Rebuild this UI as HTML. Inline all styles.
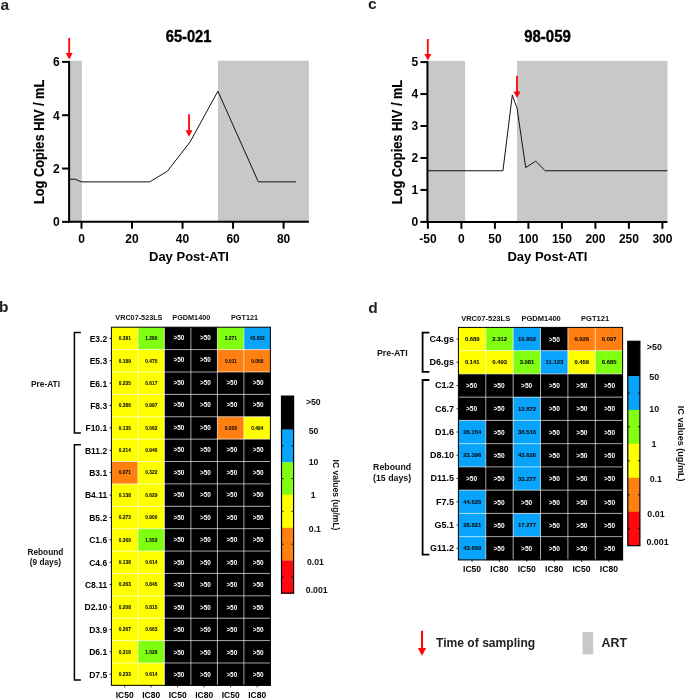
<!DOCTYPE html>
<html><head><meta charset="utf-8"><title>Figure</title>
<style>html,body{margin:0;padding:0;background:#fff;}body{width:685px;height:698px;overflow:hidden;font-family:"Liberation Sans",sans-serif;}svg{display:block;will-change:transform;}</style></head>
<body>
<svg width="685" height="698" viewBox="0 0 685 698" font-family="Liberation Sans, sans-serif" font-weight="bold">
<rect width="685" height="698" fill="#fff"/>
<rect x="69.12" y="60.69" width="12.76" height="161.16" fill="#c8c8c8"/>
<rect x="217.90" y="60.69" width="90.94" height="161.16" fill="#c8c8c8"/>
<polyline points="68.87,179.19 75.19,179.19 81.50,181.86 149.70,181.86 167.38,171.20 190.12,141.87 217.90,91.22 258.32,181.86 296.21,181.86" fill="none" stroke="#111" stroke-width="1.0" stroke-linejoin="miter"/>
<line x1="69.10" y1="60.89" x2="69.10" y2="222.85" stroke="#000" stroke-width="2.0"/>
<line x1="68.10" y1="221.85" x2="308.84" y2="221.85" stroke="#000" stroke-width="2.0"/>
<line x1="62.10" y1="221.85" x2="69.10" y2="221.85" stroke="#000" stroke-width="2.0"/>
<text x="59.80" y="226.15" font-size="12" text-anchor="end" fill="#000" >0</text>
<line x1="62.10" y1="168.53" x2="69.10" y2="168.53" stroke="#000" stroke-width="2.0"/>
<text x="59.80" y="172.83" font-size="12" text-anchor="end" fill="#000" >2</text>
<line x1="62.10" y1="115.21" x2="69.10" y2="115.21" stroke="#000" stroke-width="2.0"/>
<text x="59.80" y="119.51" font-size="12" text-anchor="end" fill="#000" >4</text>
<line x1="62.10" y1="61.89" x2="69.10" y2="61.89" stroke="#000" stroke-width="2.0"/>
<text x="59.80" y="66.19" font-size="12" text-anchor="end" fill="#000" >6</text>
<line x1="81.50" y1="221.85" x2="81.50" y2="228.75" stroke="#000" stroke-width="2.0"/>
<text x="81.50" y="242.85" font-size="12" text-anchor="middle" fill="#000" >0</text>
<line x1="132.02" y1="221.85" x2="132.02" y2="228.75" stroke="#000" stroke-width="2.0"/>
<text x="132.02" y="242.85" font-size="12" text-anchor="middle" fill="#000" >20</text>
<line x1="182.54" y1="221.85" x2="182.54" y2="228.75" stroke="#000" stroke-width="2.0"/>
<text x="182.54" y="242.85" font-size="12" text-anchor="middle" fill="#000" >40</text>
<line x1="233.06" y1="221.85" x2="233.06" y2="228.75" stroke="#000" stroke-width="2.0"/>
<text x="233.06" y="242.85" font-size="12" text-anchor="middle" fill="#000" >60</text>
<line x1="283.58" y1="221.85" x2="283.58" y2="228.75" stroke="#000" stroke-width="2.0"/>
<text x="283.58" y="242.85" font-size="12" text-anchor="middle" fill="#000" >80</text>
<text x="188.97" y="260.65" font-size="13.0" text-anchor="middle" fill="#000" >Day Post-ATI</text>
<text transform="translate(188.57,41.90) scale(0.98,1.11)" font-size="15" text-anchor="middle" fill="#000" stroke="#000" stroke-width="0.35">65-021</text>
<text transform="translate(43.90,141.87) rotate(-90) scale(0.985,1.08)" font-size="13" text-anchor="middle" fill="#000" stroke="#000" stroke-width="0.15">Log Copies HIV / mL</text>
<line x1="69.2" y1="38" x2="69.2" y2="54.1" stroke="#ff0505" stroke-width="1.8"/>
<polygon points="65.7,53.1 72.7,53.1 69.2,59.6" fill="#ff0505"/>
<line x1="189" y1="114.3" x2="189" y2="131.2" stroke="#ff0505" stroke-width="1.8"/>
<polygon points="185.5,130.2 192.5,130.2 189,136.7" fill="#ff0505"/>
<rect x="427.90" y="60.90" width="37.19" height="161.00" fill="#c8c8c8"/>
<rect x="517.01" y="60.90" width="150.41" height="161.00" fill="#c8c8c8"/>
<polyline points="427.90,170.76 502.94,170.76 512.32,95.02 517.01,108.12 525.72,167.57 535.77,161.18 545.15,170.76 667.42,170.76" fill="none" stroke="#111" stroke-width="1.0" stroke-linejoin="miter"/>
<line x1="427.43" y1="61.10" x2="427.43" y2="222.90" stroke="#000" stroke-width="2.0"/>
<line x1="426.43" y1="221.90" x2="667.42" y2="221.90" stroke="#000" stroke-width="2.0"/>
<line x1="420.43" y1="221.90" x2="427.43" y2="221.90" stroke="#000" stroke-width="2.0"/>
<text x="418.13" y="226.20" font-size="12" text-anchor="end" fill="#000" >0</text>
<line x1="420.43" y1="189.94" x2="427.43" y2="189.94" stroke="#000" stroke-width="2.0"/>
<text x="418.13" y="194.24" font-size="12" text-anchor="end" fill="#000" >1</text>
<line x1="420.43" y1="157.98" x2="427.43" y2="157.98" stroke="#000" stroke-width="2.0"/>
<text x="418.13" y="162.28" font-size="12" text-anchor="end" fill="#000" >2</text>
<line x1="420.43" y1="126.02" x2="427.43" y2="126.02" stroke="#000" stroke-width="2.0"/>
<text x="418.13" y="130.32" font-size="12" text-anchor="end" fill="#000" >3</text>
<line x1="420.43" y1="94.06" x2="427.43" y2="94.06" stroke="#000" stroke-width="2.0"/>
<text x="418.13" y="98.36" font-size="12" text-anchor="end" fill="#000" >4</text>
<line x1="420.43" y1="62.10" x2="427.43" y2="62.10" stroke="#000" stroke-width="2.0"/>
<text x="418.13" y="66.40" font-size="12" text-anchor="end" fill="#000" >5</text>
<line x1="427.90" y1="221.90" x2="427.90" y2="228.80" stroke="#000" stroke-width="2.0"/>
<text x="427.90" y="242.90" font-size="12" text-anchor="middle" fill="#000" >-50</text>
<line x1="461.40" y1="221.90" x2="461.40" y2="228.80" stroke="#000" stroke-width="2.0"/>
<text x="461.40" y="242.90" font-size="12" text-anchor="middle" fill="#000" >0</text>
<line x1="494.90" y1="221.90" x2="494.90" y2="228.80" stroke="#000" stroke-width="2.0"/>
<text x="494.90" y="242.90" font-size="12" text-anchor="middle" fill="#000" >50</text>
<line x1="528.40" y1="221.90" x2="528.40" y2="228.80" stroke="#000" stroke-width="2.0"/>
<text x="528.40" y="242.90" font-size="12" text-anchor="middle" fill="#000" >100</text>
<line x1="561.90" y1="221.90" x2="561.90" y2="228.80" stroke="#000" stroke-width="2.0"/>
<text x="561.90" y="242.90" font-size="12" text-anchor="middle" fill="#000" >150</text>
<line x1="595.40" y1="221.90" x2="595.40" y2="228.80" stroke="#000" stroke-width="2.0"/>
<text x="595.40" y="242.90" font-size="12" text-anchor="middle" fill="#000" >200</text>
<line x1="628.90" y1="221.90" x2="628.90" y2="228.80" stroke="#000" stroke-width="2.0"/>
<text x="628.90" y="242.90" font-size="12" text-anchor="middle" fill="#000" >250</text>
<line x1="662.40" y1="221.90" x2="662.40" y2="228.80" stroke="#000" stroke-width="2.0"/>
<text x="662.40" y="242.90" font-size="12" text-anchor="middle" fill="#000" >300</text>
<text x="547.43" y="260.70" font-size="13.0" text-anchor="middle" fill="#000" >Day Post-ATI</text>
<text transform="translate(547.53,41.90) scale(1.0,1.11)" font-size="15" text-anchor="middle" fill="#000" stroke="#000" stroke-width="0.35">98-059</text>
<text transform="translate(402.00,142.00) rotate(-90) scale(0.985,1.08)" font-size="13" text-anchor="middle" fill="#000" stroke="#000" stroke-width="0.15">Log Copies HIV / mL</text>
<line x1="427.8" y1="39" x2="427.8" y2="55.1" stroke="#ff0505" stroke-width="1.8"/>
<polygon points="424.3,54.1 431.3,54.1 427.8,60.6" fill="#ff0505"/>
<line x1="517" y1="75.8" x2="517" y2="92.5" stroke="#ff0505" stroke-width="1.8"/>
<polygon points="513.5,91.5 520.5,91.5 517,98.0" fill="#ff0505"/>
<text x="0.50" y="10.30" font-size="15.5" text-anchor="start" fill="#222" >a</text>
<text x="367.90" y="8.80" font-size="15.5" text-anchor="start" fill="#222" >c</text>
<text x="-0.90" y="311.80" font-size="15.5" text-anchor="start" fill="#222" >b</text>
<text x="368.20" y="313.30" font-size="15.5" text-anchor="start" fill="#222" >d</text>
<rect x="111.40" y="327.20" width="26.80" height="22.69" fill="#ffff00"/>
<rect x="137.90" y="327.20" width="26.80" height="22.69" fill="#80ff10"/>
<rect x="164.40" y="327.20" width="26.80" height="22.69" fill="#000000"/>
<rect x="190.90" y="327.20" width="26.80" height="22.69" fill="#000000"/>
<rect x="217.40" y="327.20" width="26.80" height="22.69" fill="#80ff10"/>
<rect x="243.90" y="327.20" width="26.80" height="22.69" fill="#08a4fc"/>
<rect x="111.40" y="349.58" width="26.80" height="22.69" fill="#ffff00"/>
<rect x="137.90" y="349.58" width="26.80" height="22.69" fill="#ffff00"/>
<rect x="164.40" y="349.58" width="26.80" height="22.69" fill="#000000"/>
<rect x="190.90" y="349.58" width="26.80" height="22.69" fill="#000000"/>
<rect x="217.40" y="349.58" width="26.80" height="22.69" fill="#ff8010"/>
<rect x="243.90" y="349.58" width="26.80" height="22.69" fill="#ff8010"/>
<rect x="111.40" y="371.97" width="26.80" height="22.69" fill="#ffff00"/>
<rect x="137.90" y="371.97" width="26.80" height="22.69" fill="#ffff00"/>
<rect x="164.40" y="371.97" width="26.80" height="22.69" fill="#000000"/>
<rect x="190.90" y="371.97" width="26.80" height="22.69" fill="#000000"/>
<rect x="217.40" y="371.97" width="26.80" height="22.69" fill="#000000"/>
<rect x="243.90" y="371.97" width="26.80" height="22.69" fill="#000000"/>
<rect x="111.40" y="394.36" width="26.80" height="22.69" fill="#ffff00"/>
<rect x="137.90" y="394.36" width="26.80" height="22.69" fill="#ffff00"/>
<rect x="164.40" y="394.36" width="26.80" height="22.69" fill="#000000"/>
<rect x="190.90" y="394.36" width="26.80" height="22.69" fill="#000000"/>
<rect x="217.40" y="394.36" width="26.80" height="22.69" fill="#000000"/>
<rect x="243.90" y="394.36" width="26.80" height="22.69" fill="#000000"/>
<rect x="111.40" y="416.74" width="26.80" height="22.69" fill="#ffff00"/>
<rect x="137.90" y="416.74" width="26.80" height="22.69" fill="#ffff00"/>
<rect x="164.40" y="416.74" width="26.80" height="22.69" fill="#000000"/>
<rect x="190.90" y="416.74" width="26.80" height="22.69" fill="#000000"/>
<rect x="217.40" y="416.74" width="26.80" height="22.69" fill="#ff8010"/>
<rect x="243.90" y="416.74" width="26.80" height="22.69" fill="#ffff00"/>
<rect x="111.40" y="439.12" width="26.80" height="22.69" fill="#ffff00"/>
<rect x="137.90" y="439.12" width="26.80" height="22.69" fill="#ffff00"/>
<rect x="164.40" y="439.12" width="26.80" height="22.69" fill="#000000"/>
<rect x="190.90" y="439.12" width="26.80" height="22.69" fill="#000000"/>
<rect x="217.40" y="439.12" width="26.80" height="22.69" fill="#000000"/>
<rect x="243.90" y="439.12" width="26.80" height="22.69" fill="#000000"/>
<rect x="111.40" y="461.51" width="26.80" height="22.69" fill="#ff8010"/>
<rect x="137.90" y="461.51" width="26.80" height="22.69" fill="#ffff00"/>
<rect x="164.40" y="461.51" width="26.80" height="22.69" fill="#000000"/>
<rect x="190.90" y="461.51" width="26.80" height="22.69" fill="#000000"/>
<rect x="217.40" y="461.51" width="26.80" height="22.69" fill="#000000"/>
<rect x="243.90" y="461.51" width="26.80" height="22.69" fill="#000000"/>
<rect x="111.40" y="483.89" width="26.80" height="22.69" fill="#ffff00"/>
<rect x="137.90" y="483.89" width="26.80" height="22.69" fill="#ffff00"/>
<rect x="164.40" y="483.89" width="26.80" height="22.69" fill="#000000"/>
<rect x="190.90" y="483.89" width="26.80" height="22.69" fill="#000000"/>
<rect x="217.40" y="483.89" width="26.80" height="22.69" fill="#000000"/>
<rect x="243.90" y="483.89" width="26.80" height="22.69" fill="#000000"/>
<rect x="111.40" y="506.28" width="26.80" height="22.69" fill="#ffff00"/>
<rect x="137.90" y="506.28" width="26.80" height="22.69" fill="#ffff00"/>
<rect x="164.40" y="506.28" width="26.80" height="22.69" fill="#000000"/>
<rect x="190.90" y="506.28" width="26.80" height="22.69" fill="#000000"/>
<rect x="217.40" y="506.28" width="26.80" height="22.69" fill="#000000"/>
<rect x="243.90" y="506.28" width="26.80" height="22.69" fill="#000000"/>
<rect x="111.40" y="528.66" width="26.80" height="22.69" fill="#ffff00"/>
<rect x="137.90" y="528.66" width="26.80" height="22.69" fill="#80ff10"/>
<rect x="164.40" y="528.66" width="26.80" height="22.69" fill="#000000"/>
<rect x="190.90" y="528.66" width="26.80" height="22.69" fill="#000000"/>
<rect x="217.40" y="528.66" width="26.80" height="22.69" fill="#000000"/>
<rect x="243.90" y="528.66" width="26.80" height="22.69" fill="#000000"/>
<rect x="111.40" y="551.05" width="26.80" height="22.69" fill="#ffff00"/>
<rect x="137.90" y="551.05" width="26.80" height="22.69" fill="#ffff00"/>
<rect x="164.40" y="551.05" width="26.80" height="22.69" fill="#000000"/>
<rect x="190.90" y="551.05" width="26.80" height="22.69" fill="#000000"/>
<rect x="217.40" y="551.05" width="26.80" height="22.69" fill="#000000"/>
<rect x="243.90" y="551.05" width="26.80" height="22.69" fill="#000000"/>
<rect x="111.40" y="573.43" width="26.80" height="22.69" fill="#ffff00"/>
<rect x="137.90" y="573.43" width="26.80" height="22.69" fill="#ffff00"/>
<rect x="164.40" y="573.43" width="26.80" height="22.69" fill="#000000"/>
<rect x="190.90" y="573.43" width="26.80" height="22.69" fill="#000000"/>
<rect x="217.40" y="573.43" width="26.80" height="22.69" fill="#000000"/>
<rect x="243.90" y="573.43" width="26.80" height="22.69" fill="#000000"/>
<rect x="111.40" y="595.82" width="26.80" height="22.69" fill="#ffff00"/>
<rect x="137.90" y="595.82" width="26.80" height="22.69" fill="#ffff00"/>
<rect x="164.40" y="595.82" width="26.80" height="22.69" fill="#000000"/>
<rect x="190.90" y="595.82" width="26.80" height="22.69" fill="#000000"/>
<rect x="217.40" y="595.82" width="26.80" height="22.69" fill="#000000"/>
<rect x="243.90" y="595.82" width="26.80" height="22.69" fill="#000000"/>
<rect x="111.40" y="618.20" width="26.80" height="22.69" fill="#ffff00"/>
<rect x="137.90" y="618.20" width="26.80" height="22.69" fill="#ffff00"/>
<rect x="164.40" y="618.20" width="26.80" height="22.69" fill="#000000"/>
<rect x="190.90" y="618.20" width="26.80" height="22.69" fill="#000000"/>
<rect x="217.40" y="618.20" width="26.80" height="22.69" fill="#000000"/>
<rect x="243.90" y="618.20" width="26.80" height="22.69" fill="#000000"/>
<rect x="111.40" y="640.59" width="26.80" height="22.69" fill="#ffff00"/>
<rect x="137.90" y="640.59" width="26.80" height="22.69" fill="#80ff10"/>
<rect x="164.40" y="640.59" width="26.80" height="22.69" fill="#000000"/>
<rect x="190.90" y="640.59" width="26.80" height="22.69" fill="#000000"/>
<rect x="217.40" y="640.59" width="26.80" height="22.69" fill="#000000"/>
<rect x="243.90" y="640.59" width="26.80" height="22.69" fill="#000000"/>
<rect x="111.40" y="662.98" width="26.80" height="22.69" fill="#ffff00"/>
<rect x="137.90" y="662.98" width="26.80" height="22.69" fill="#ffff00"/>
<rect x="164.40" y="662.98" width="26.80" height="22.69" fill="#000000"/>
<rect x="190.90" y="662.98" width="26.80" height="22.69" fill="#000000"/>
<rect x="217.40" y="662.98" width="26.80" height="22.69" fill="#000000"/>
<rect x="243.90" y="662.98" width="26.80" height="22.69" fill="#000000"/>
<line x1="111.40" y1="349.58" x2="270.40" y2="349.58" stroke="#fff" stroke-opacity="0.8" stroke-width="0.8"/>
<line x1="111.40" y1="371.97" x2="270.40" y2="371.97" stroke="#fff" stroke-opacity="0.8" stroke-width="0.8"/>
<line x1="111.40" y1="394.36" x2="270.40" y2="394.36" stroke="#fff" stroke-opacity="0.8" stroke-width="0.8"/>
<line x1="111.40" y1="416.74" x2="270.40" y2="416.74" stroke="#fff" stroke-opacity="0.8" stroke-width="0.8"/>
<line x1="111.40" y1="439.12" x2="270.40" y2="439.12" stroke="#fff" stroke-opacity="0.8" stroke-width="0.8"/>
<line x1="111.40" y1="461.51" x2="270.40" y2="461.51" stroke="#fff" stroke-opacity="0.8" stroke-width="0.8"/>
<line x1="111.40" y1="483.89" x2="270.40" y2="483.89" stroke="#fff" stroke-opacity="0.8" stroke-width="0.8"/>
<line x1="111.40" y1="506.28" x2="270.40" y2="506.28" stroke="#fff" stroke-opacity="0.8" stroke-width="0.8"/>
<line x1="111.40" y1="528.66" x2="270.40" y2="528.66" stroke="#fff" stroke-opacity="0.8" stroke-width="0.8"/>
<line x1="111.40" y1="551.05" x2="270.40" y2="551.05" stroke="#fff" stroke-opacity="0.8" stroke-width="0.8"/>
<line x1="111.40" y1="573.43" x2="270.40" y2="573.43" stroke="#fff" stroke-opacity="0.8" stroke-width="0.8"/>
<line x1="111.40" y1="595.82" x2="270.40" y2="595.82" stroke="#fff" stroke-opacity="0.8" stroke-width="0.8"/>
<line x1="111.40" y1="618.20" x2="270.40" y2="618.20" stroke="#fff" stroke-opacity="0.8" stroke-width="0.8"/>
<line x1="111.40" y1="640.59" x2="270.40" y2="640.59" stroke="#fff" stroke-opacity="0.8" stroke-width="0.8"/>
<line x1="111.40" y1="662.98" x2="270.40" y2="662.98" stroke="#fff" stroke-opacity="0.8" stroke-width="0.8"/>
<line x1="137.90" y1="327.20" x2="137.90" y2="685.36" stroke="#fff" stroke-opacity="0.8" stroke-width="0.8"/>
<line x1="164.40" y1="327.20" x2="164.40" y2="685.36" stroke="#fff" stroke-opacity="0.8" stroke-width="0.8"/>
<line x1="190.90" y1="327.20" x2="190.90" y2="685.36" stroke="#fff" stroke-opacity="0.8" stroke-width="0.8"/>
<line x1="217.40" y1="327.20" x2="217.40" y2="685.36" stroke="#fff" stroke-opacity="0.8" stroke-width="0.8"/>
<line x1="243.90" y1="327.20" x2="243.90" y2="685.36" stroke="#fff" stroke-opacity="0.8" stroke-width="0.8"/>
<text x="124.85" y="340.12" font-size="4.8" text-anchor="middle" fill="#0a0a0a" stroke="#111" stroke-width="0.07">0.381</text>
<text x="151.35" y="340.12" font-size="4.8" text-anchor="middle" fill="#0a0a0a" stroke="#111" stroke-width="0.07">1.280</text>
<text x="179.00" y="339.79" font-size="6.4" text-anchor="middle" fill="#fff" >&gt;50</text>
<text x="205.40" y="339.79" font-size="6.4" text-anchor="middle" fill="#fff" >&gt;50</text>
<text x="230.85" y="340.12" font-size="4.8" text-anchor="middle" fill="#0a0a0a" stroke="#111" stroke-width="0.07">3.371</text>
<text x="257.35" y="340.12" font-size="4.8" text-anchor="middle" fill="#0a0a0a" stroke="#111" stroke-width="0.07">45.932</text>
<line x1="109.60" y1="338.39" x2="111.40" y2="338.39" stroke="#000" stroke-width="0.9"/>
<text x="107.20" y="341.75" font-size="8.5" text-anchor="end" fill="#000" >E3.2</text>
<text x="124.85" y="362.51" font-size="4.8" text-anchor="middle" fill="#0a0a0a" stroke="#111" stroke-width="0.07">0.189</text>
<text x="151.35" y="362.51" font-size="4.8" text-anchor="middle" fill="#0a0a0a" stroke="#111" stroke-width="0.07">0.475</text>
<text x="179.00" y="362.28" font-size="6.4" text-anchor="middle" fill="#fff" >&gt;50</text>
<text x="205.40" y="362.28" font-size="6.4" text-anchor="middle" fill="#fff" >&gt;50</text>
<text x="230.85" y="362.51" font-size="4.8" text-anchor="middle" fill="#0a0a0a" stroke="#111" stroke-width="0.07">0.011</text>
<text x="257.35" y="362.51" font-size="4.8" text-anchor="middle" fill="#0a0a0a" stroke="#111" stroke-width="0.07">0.050</text>
<line x1="109.60" y1="360.78" x2="111.40" y2="360.78" stroke="#000" stroke-width="0.9"/>
<text x="107.20" y="364.14" font-size="8.5" text-anchor="end" fill="#000" >E5.3</text>
<text x="124.85" y="384.89" font-size="4.8" text-anchor="middle" fill="#0a0a0a" stroke="#111" stroke-width="0.07">0.235</text>
<text x="151.35" y="384.89" font-size="4.8" text-anchor="middle" fill="#0a0a0a" stroke="#111" stroke-width="0.07">0.617</text>
<text x="179.00" y="384.77" font-size="6.4" text-anchor="middle" fill="#fff" >&gt;50</text>
<text x="205.40" y="384.77" font-size="6.4" text-anchor="middle" fill="#fff" >&gt;50</text>
<text x="231.80" y="384.77" font-size="6.4" text-anchor="middle" fill="#fff" >&gt;50</text>
<text x="258.20" y="384.77" font-size="6.4" text-anchor="middle" fill="#fff" >&gt;50</text>
<line x1="109.60" y1="383.16" x2="111.40" y2="383.16" stroke="#000" stroke-width="0.9"/>
<text x="107.20" y="386.52" font-size="8.5" text-anchor="end" fill="#000" >E6.1</text>
<text x="124.85" y="407.28" font-size="4.8" text-anchor="middle" fill="#0a0a0a" stroke="#111" stroke-width="0.07">0.386</text>
<text x="151.35" y="407.28" font-size="4.8" text-anchor="middle" fill="#0a0a0a" stroke="#111" stroke-width="0.07">0.997</text>
<text x="179.00" y="407.25" font-size="6.4" text-anchor="middle" fill="#fff" >&gt;50</text>
<text x="205.40" y="407.25" font-size="6.4" text-anchor="middle" fill="#fff" >&gt;50</text>
<text x="231.80" y="407.25" font-size="6.4" text-anchor="middle" fill="#fff" >&gt;50</text>
<text x="258.20" y="407.25" font-size="6.4" text-anchor="middle" fill="#fff" >&gt;50</text>
<line x1="109.60" y1="405.55" x2="111.40" y2="405.55" stroke="#000" stroke-width="0.9"/>
<text x="107.20" y="408.91" font-size="8.5" text-anchor="end" fill="#000" >F8.3</text>
<text x="124.85" y="429.66" font-size="4.8" text-anchor="middle" fill="#0a0a0a" stroke="#111" stroke-width="0.07">0.135</text>
<text x="151.35" y="429.66" font-size="4.8" text-anchor="middle" fill="#0a0a0a" stroke="#111" stroke-width="0.07">0.562</text>
<text x="179.00" y="429.74" font-size="6.4" text-anchor="middle" fill="#fff" >&gt;50</text>
<text x="205.40" y="429.74" font-size="6.4" text-anchor="middle" fill="#fff" >&gt;50</text>
<text x="230.85" y="429.66" font-size="4.8" text-anchor="middle" fill="#0a0a0a" stroke="#111" stroke-width="0.07">0.029</text>
<text x="257.35" y="429.66" font-size="4.8" text-anchor="middle" fill="#0a0a0a" stroke="#111" stroke-width="0.07">0.484</text>
<line x1="109.60" y1="427.93" x2="111.40" y2="427.93" stroke="#000" stroke-width="0.9"/>
<text x="107.20" y="431.29" font-size="8.5" text-anchor="end" fill="#000" >F10.1</text>
<text x="124.85" y="452.05" font-size="4.8" text-anchor="middle" fill="#0a0a0a" stroke="#111" stroke-width="0.07">0.214</text>
<text x="151.35" y="452.05" font-size="4.8" text-anchor="middle" fill="#0a0a0a" stroke="#111" stroke-width="0.07">0.946</text>
<text x="179.00" y="452.23" font-size="6.4" text-anchor="middle" fill="#fff" >&gt;50</text>
<text x="205.40" y="452.23" font-size="6.4" text-anchor="middle" fill="#fff" >&gt;50</text>
<text x="231.80" y="452.23" font-size="6.4" text-anchor="middle" fill="#fff" >&gt;50</text>
<text x="258.20" y="452.23" font-size="6.4" text-anchor="middle" fill="#fff" >&gt;50</text>
<line x1="109.60" y1="450.32" x2="111.40" y2="450.32" stroke="#000" stroke-width="0.9"/>
<text x="107.20" y="453.68" font-size="8.5" text-anchor="end" fill="#000" >B11.2</text>
<text x="124.85" y="474.43" font-size="4.8" text-anchor="middle" fill="#0a0a0a" stroke="#111" stroke-width="0.07">0.071</text>
<text x="151.35" y="474.43" font-size="4.8" text-anchor="middle" fill="#0a0a0a" stroke="#111" stroke-width="0.07">0.322</text>
<text x="179.00" y="474.71" font-size="6.4" text-anchor="middle" fill="#fff" >&gt;50</text>
<text x="205.40" y="474.71" font-size="6.4" text-anchor="middle" fill="#fff" >&gt;50</text>
<text x="231.80" y="474.71" font-size="6.4" text-anchor="middle" fill="#fff" >&gt;50</text>
<text x="258.20" y="474.71" font-size="6.4" text-anchor="middle" fill="#fff" >&gt;50</text>
<line x1="109.60" y1="472.70" x2="111.40" y2="472.70" stroke="#000" stroke-width="0.9"/>
<text x="107.20" y="476.06" font-size="8.5" text-anchor="end" fill="#000" >B3.1</text>
<text x="124.85" y="496.82" font-size="4.8" text-anchor="middle" fill="#0a0a0a" stroke="#111" stroke-width="0.07">0.138</text>
<text x="151.35" y="496.82" font-size="4.8" text-anchor="middle" fill="#0a0a0a" stroke="#111" stroke-width="0.07">0.629</text>
<text x="179.00" y="497.20" font-size="6.4" text-anchor="middle" fill="#fff" >&gt;50</text>
<text x="205.40" y="497.20" font-size="6.4" text-anchor="middle" fill="#fff" >&gt;50</text>
<text x="231.80" y="497.20" font-size="6.4" text-anchor="middle" fill="#fff" >&gt;50</text>
<text x="258.20" y="497.20" font-size="6.4" text-anchor="middle" fill="#fff" >&gt;50</text>
<line x1="109.60" y1="495.09" x2="111.40" y2="495.09" stroke="#000" stroke-width="0.9"/>
<text x="107.20" y="498.45" font-size="8.5" text-anchor="end" fill="#000" >B4.11</text>
<text x="124.85" y="519.20" font-size="4.8" text-anchor="middle" fill="#0a0a0a" stroke="#111" stroke-width="0.07">0.273</text>
<text x="151.35" y="519.20" font-size="4.8" text-anchor="middle" fill="#0a0a0a" stroke="#111" stroke-width="0.07">0.900</text>
<text x="179.00" y="519.69" font-size="6.4" text-anchor="middle" fill="#fff" >&gt;50</text>
<text x="205.40" y="519.69" font-size="6.4" text-anchor="middle" fill="#fff" >&gt;50</text>
<text x="231.80" y="519.69" font-size="6.4" text-anchor="middle" fill="#fff" >&gt;50</text>
<text x="258.20" y="519.69" font-size="6.4" text-anchor="middle" fill="#fff" >&gt;50</text>
<line x1="109.60" y1="517.47" x2="111.40" y2="517.47" stroke="#000" stroke-width="0.9"/>
<text x="107.20" y="520.83" font-size="8.5" text-anchor="end" fill="#000" >B5.2</text>
<text x="124.85" y="541.59" font-size="4.8" text-anchor="middle" fill="#0a0a0a" stroke="#111" stroke-width="0.07">0.369</text>
<text x="151.35" y="541.59" font-size="4.8" text-anchor="middle" fill="#0a0a0a" stroke="#111" stroke-width="0.07">1.553</text>
<text x="179.00" y="542.17" font-size="6.4" text-anchor="middle" fill="#fff" >&gt;50</text>
<text x="205.40" y="542.17" font-size="6.4" text-anchor="middle" fill="#fff" >&gt;50</text>
<text x="231.80" y="542.17" font-size="6.4" text-anchor="middle" fill="#fff" >&gt;50</text>
<text x="258.20" y="542.17" font-size="6.4" text-anchor="middle" fill="#fff" >&gt;50</text>
<line x1="109.60" y1="539.86" x2="111.40" y2="539.86" stroke="#000" stroke-width="0.9"/>
<text x="107.20" y="543.22" font-size="8.5" text-anchor="end" fill="#000" >C1.6</text>
<text x="124.85" y="563.97" font-size="4.8" text-anchor="middle" fill="#0a0a0a" stroke="#111" stroke-width="0.07">0.138</text>
<text x="151.35" y="563.97" font-size="4.8" text-anchor="middle" fill="#0a0a0a" stroke="#111" stroke-width="0.07">0.614</text>
<text x="179.00" y="564.66" font-size="6.4" text-anchor="middle" fill="#fff" >&gt;50</text>
<text x="205.40" y="564.66" font-size="6.4" text-anchor="middle" fill="#fff" >&gt;50</text>
<text x="231.80" y="564.66" font-size="6.4" text-anchor="middle" fill="#fff" >&gt;50</text>
<text x="258.20" y="564.66" font-size="6.4" text-anchor="middle" fill="#fff" >&gt;50</text>
<line x1="109.60" y1="562.24" x2="111.40" y2="562.24" stroke="#000" stroke-width="0.9"/>
<text x="107.20" y="565.60" font-size="8.5" text-anchor="end" fill="#000" >C4.6</text>
<text x="124.85" y="586.36" font-size="4.8" text-anchor="middle" fill="#0a0a0a" stroke="#111" stroke-width="0.07">0.263</text>
<text x="151.35" y="586.36" font-size="4.8" text-anchor="middle" fill="#0a0a0a" stroke="#111" stroke-width="0.07">0.845</text>
<text x="179.00" y="587.15" font-size="6.4" text-anchor="middle" fill="#fff" >&gt;50</text>
<text x="205.40" y="587.15" font-size="6.4" text-anchor="middle" fill="#fff" >&gt;50</text>
<text x="231.80" y="587.15" font-size="6.4" text-anchor="middle" fill="#fff" >&gt;50</text>
<text x="258.20" y="587.15" font-size="6.4" text-anchor="middle" fill="#fff" >&gt;50</text>
<line x1="109.60" y1="584.63" x2="111.40" y2="584.63" stroke="#000" stroke-width="0.9"/>
<text x="107.20" y="587.99" font-size="8.5" text-anchor="end" fill="#000" >C8.11</text>
<text x="124.85" y="608.74" font-size="4.8" text-anchor="middle" fill="#0a0a0a" stroke="#111" stroke-width="0.07">0.208</text>
<text x="151.35" y="608.74" font-size="4.8" text-anchor="middle" fill="#0a0a0a" stroke="#111" stroke-width="0.07">0.815</text>
<text x="179.00" y="609.64" font-size="6.4" text-anchor="middle" fill="#fff" >&gt;50</text>
<text x="205.40" y="609.64" font-size="6.4" text-anchor="middle" fill="#fff" >&gt;50</text>
<text x="231.80" y="609.64" font-size="6.4" text-anchor="middle" fill="#fff" >&gt;50</text>
<text x="258.20" y="609.64" font-size="6.4" text-anchor="middle" fill="#fff" >&gt;50</text>
<line x1="109.60" y1="607.01" x2="111.40" y2="607.01" stroke="#000" stroke-width="0.9"/>
<text x="107.20" y="610.37" font-size="8.5" text-anchor="end" fill="#000" >D2.10</text>
<text x="124.85" y="631.13" font-size="4.8" text-anchor="middle" fill="#0a0a0a" stroke="#111" stroke-width="0.07">0.267</text>
<text x="151.35" y="631.13" font-size="4.8" text-anchor="middle" fill="#0a0a0a" stroke="#111" stroke-width="0.07">0.663</text>
<text x="179.00" y="632.12" font-size="6.4" text-anchor="middle" fill="#fff" >&gt;50</text>
<text x="205.40" y="632.12" font-size="6.4" text-anchor="middle" fill="#fff" >&gt;50</text>
<text x="231.80" y="632.12" font-size="6.4" text-anchor="middle" fill="#fff" >&gt;50</text>
<text x="258.20" y="632.12" font-size="6.4" text-anchor="middle" fill="#fff" >&gt;50</text>
<line x1="109.60" y1="629.40" x2="111.40" y2="629.40" stroke="#000" stroke-width="0.9"/>
<text x="107.20" y="632.76" font-size="8.5" text-anchor="end" fill="#000" >D3.9</text>
<text x="124.85" y="653.51" font-size="4.8" text-anchor="middle" fill="#0a0a0a" stroke="#111" stroke-width="0.07">0.318</text>
<text x="151.35" y="653.51" font-size="4.8" text-anchor="middle" fill="#0a0a0a" stroke="#111" stroke-width="0.07">1.028</text>
<text x="179.00" y="654.61" font-size="6.4" text-anchor="middle" fill="#fff" >&gt;50</text>
<text x="205.40" y="654.61" font-size="6.4" text-anchor="middle" fill="#fff" >&gt;50</text>
<text x="231.80" y="654.61" font-size="6.4" text-anchor="middle" fill="#fff" >&gt;50</text>
<text x="258.20" y="654.61" font-size="6.4" text-anchor="middle" fill="#fff" >&gt;50</text>
<line x1="109.60" y1="651.78" x2="111.40" y2="651.78" stroke="#000" stroke-width="0.9"/>
<text x="107.20" y="655.14" font-size="8.5" text-anchor="end" fill="#000" >D6.1</text>
<text x="124.85" y="675.90" font-size="4.8" text-anchor="middle" fill="#0a0a0a" stroke="#111" stroke-width="0.07">0.233</text>
<text x="151.35" y="675.90" font-size="4.8" text-anchor="middle" fill="#0a0a0a" stroke="#111" stroke-width="0.07">0.614</text>
<text x="179.00" y="677.10" font-size="6.4" text-anchor="middle" fill="#fff" >&gt;50</text>
<text x="205.40" y="677.10" font-size="6.4" text-anchor="middle" fill="#fff" >&gt;50</text>
<text x="231.80" y="677.10" font-size="6.4" text-anchor="middle" fill="#fff" >&gt;50</text>
<text x="258.20" y="677.10" font-size="6.4" text-anchor="middle" fill="#fff" >&gt;50</text>
<line x1="109.60" y1="674.17" x2="111.40" y2="674.17" stroke="#000" stroke-width="0.9"/>
<text x="107.20" y="677.53" font-size="8.5" text-anchor="end" fill="#000" >D7.5</text>
<rect x="111.40" y="327.20" width="159.00" height="358.16" fill="none" stroke="#000" stroke-width="1"/>
<line x1="124.65" y1="685.36" x2="124.65" y2="687.36" stroke="#000" stroke-width="0.8"/>
<text x="124.65" y="697.56" font-size="8.5" text-anchor="middle" fill="#000" >IC50</text>
<line x1="151.15" y1="685.36" x2="151.15" y2="687.36" stroke="#000" stroke-width="0.8"/>
<text x="151.15" y="697.56" font-size="8.5" text-anchor="middle" fill="#000" >IC80</text>
<line x1="177.65" y1="685.36" x2="177.65" y2="687.36" stroke="#000" stroke-width="0.8"/>
<text x="177.65" y="697.56" font-size="8.5" text-anchor="middle" fill="#000" >IC50</text>
<line x1="204.15" y1="685.36" x2="204.15" y2="687.36" stroke="#000" stroke-width="0.8"/>
<text x="204.15" y="697.56" font-size="8.5" text-anchor="middle" fill="#000" >IC80</text>
<line x1="230.65" y1="685.36" x2="230.65" y2="687.36" stroke="#000" stroke-width="0.8"/>
<text x="230.65" y="697.56" font-size="8.5" text-anchor="middle" fill="#000" >IC50</text>
<line x1="257.15" y1="685.36" x2="257.15" y2="687.36" stroke="#000" stroke-width="0.8"/>
<text x="257.15" y="697.56" font-size="8.5" text-anchor="middle" fill="#000" >IC80</text>
<text x="138.90" y="319.80" font-size="7.25" text-anchor="middle" fill="#111" >VRC07-523LS</text>
<text x="191.30" y="319.80" font-size="7.25" text-anchor="middle" fill="#111" >PGDM1400</text>
<text x="244.50" y="319.80" font-size="7.25" text-anchor="middle" fill="#111" >PGT121</text>
<polyline points="80.90,332.40 74.40,332.40 74.40,433.00 80.90,433.00" fill="none" stroke="#000" stroke-width="1.5"/>
<polyline points="80.90,444.70 74.40,444.70 74.40,680.00 80.90,680.00" fill="none" stroke="#000" stroke-width="1.5"/>
<text x="45.50" y="387.20" font-size="8.3" text-anchor="middle" fill="#111" >Pre-ATI</text>
<text x="45.40" y="555.00" font-size="8.3" text-anchor="middle" fill="#111" >Rebound</text>
<text x="45.40" y="565.00" font-size="8.3" text-anchor="middle" fill="#111" >(9 days)</text>
<rect x="281.50" y="396.10" width="12.10" height="33.70" fill="#000000"/>
<rect x="281.50" y="429.50" width="12.10" height="33.10" fill="#08a4fc"/>
<rect x="281.50" y="462.30" width="12.10" height="32.80" fill="#80ff10"/>
<rect x="281.50" y="494.80" width="12.10" height="33.30" fill="#ffff00"/>
<rect x="281.50" y="527.80" width="12.10" height="33.10" fill="#ff8010"/>
<rect x="281.50" y="560.60" width="12.10" height="32.90" fill="#ff0810"/>
<rect x="281.50" y="396.10" width="12.10" height="197.10" fill="none" stroke="#000" stroke-width="1.2"/>
<line x1="281.50" y1="445.90" x2="283.50" y2="445.90" stroke="#000" stroke-width="0.9"/>
<line x1="291.60" y1="445.90" x2="293.60" y2="445.90" stroke="#000" stroke-width="0.9"/>
<line x1="281.50" y1="478.55" x2="283.50" y2="478.55" stroke="#000" stroke-width="0.9"/>
<line x1="291.60" y1="478.55" x2="293.60" y2="478.55" stroke="#000" stroke-width="0.9"/>
<line x1="281.50" y1="511.30" x2="283.50" y2="511.30" stroke="#000" stroke-width="0.9"/>
<line x1="291.60" y1="511.30" x2="293.60" y2="511.30" stroke="#000" stroke-width="0.9"/>
<line x1="281.50" y1="544.20" x2="283.50" y2="544.20" stroke="#000" stroke-width="0.9"/>
<line x1="291.60" y1="544.20" x2="293.60" y2="544.20" stroke="#000" stroke-width="0.9"/>
<line x1="281.50" y1="576.90" x2="283.50" y2="576.90" stroke="#000" stroke-width="0.9"/>
<line x1="291.60" y1="576.90" x2="293.60" y2="576.90" stroke="#000" stroke-width="0.9"/>
<text x="313.30" y="404.83" font-size="8.7" text-anchor="middle" fill="#111" >&gt;50</text>
<text x="313.60" y="433.93" font-size="8.7" text-anchor="middle" fill="#111" >50</text>
<text x="313.60" y="464.63" font-size="8.7" text-anchor="middle" fill="#111" >10</text>
<text x="313.20" y="498.43" font-size="8.7" text-anchor="middle" fill="#111" >1</text>
<text x="314.90" y="532.23" font-size="8.7" text-anchor="middle" fill="#111" >0.1</text>
<text x="315.40" y="565.23" font-size="8.7" text-anchor="middle" fill="#111" >0.01</text>
<text x="316.70" y="592.63" font-size="8.7" text-anchor="middle" fill="#111" >0.001</text>
<text transform="translate(333.20,495.00) rotate(90)" font-size="8.5" text-anchor="middle" fill="#111">IC values (ug/mL)</text>
<rect x="458.40" y="327.40" width="27.67" height="23.55" fill="#ffff00"/>
<rect x="485.77" y="327.40" width="27.67" height="23.55" fill="#80ff10"/>
<rect x="513.14" y="327.40" width="27.67" height="23.55" fill="#08a4fc"/>
<rect x="540.51" y="327.40" width="27.67" height="23.55" fill="#000000"/>
<rect x="567.88" y="327.40" width="27.67" height="23.55" fill="#ff8010"/>
<rect x="595.25" y="327.40" width="27.67" height="23.55" fill="#ff8010"/>
<rect x="458.40" y="350.65" width="27.67" height="23.55" fill="#ffff00"/>
<rect x="485.77" y="350.65" width="27.67" height="23.55" fill="#ffff00"/>
<rect x="513.14" y="350.65" width="27.67" height="23.55" fill="#80ff10"/>
<rect x="540.51" y="350.65" width="27.67" height="23.55" fill="#08a4fc"/>
<rect x="567.88" y="350.65" width="27.67" height="23.55" fill="#ffff00"/>
<rect x="595.25" y="350.65" width="27.67" height="23.55" fill="#80ff10"/>
<rect x="458.40" y="373.90" width="27.67" height="23.55" fill="#000000"/>
<rect x="485.77" y="373.90" width="27.67" height="23.55" fill="#000000"/>
<rect x="513.14" y="373.90" width="27.67" height="23.55" fill="#000000"/>
<rect x="540.51" y="373.90" width="27.67" height="23.55" fill="#000000"/>
<rect x="567.88" y="373.90" width="27.67" height="23.55" fill="#000000"/>
<rect x="595.25" y="373.90" width="27.67" height="23.55" fill="#000000"/>
<rect x="458.40" y="397.15" width="27.67" height="23.55" fill="#000000"/>
<rect x="485.77" y="397.15" width="27.67" height="23.55" fill="#000000"/>
<rect x="513.14" y="397.15" width="27.67" height="23.55" fill="#08a4fc"/>
<rect x="540.51" y="397.15" width="27.67" height="23.55" fill="#000000"/>
<rect x="567.88" y="397.15" width="27.67" height="23.55" fill="#000000"/>
<rect x="595.25" y="397.15" width="27.67" height="23.55" fill="#000000"/>
<rect x="458.40" y="420.40" width="27.67" height="23.55" fill="#08a4fc"/>
<rect x="485.77" y="420.40" width="27.67" height="23.55" fill="#000000"/>
<rect x="513.14" y="420.40" width="27.67" height="23.55" fill="#08a4fc"/>
<rect x="540.51" y="420.40" width="27.67" height="23.55" fill="#000000"/>
<rect x="567.88" y="420.40" width="27.67" height="23.55" fill="#000000"/>
<rect x="595.25" y="420.40" width="27.67" height="23.55" fill="#000000"/>
<rect x="458.40" y="443.65" width="27.67" height="23.55" fill="#08a4fc"/>
<rect x="485.77" y="443.65" width="27.67" height="23.55" fill="#000000"/>
<rect x="513.14" y="443.65" width="27.67" height="23.55" fill="#08a4fc"/>
<rect x="540.51" y="443.65" width="27.67" height="23.55" fill="#000000"/>
<rect x="567.88" y="443.65" width="27.67" height="23.55" fill="#000000"/>
<rect x="595.25" y="443.65" width="27.67" height="23.55" fill="#000000"/>
<rect x="458.40" y="466.90" width="27.67" height="23.55" fill="#000000"/>
<rect x="485.77" y="466.90" width="27.67" height="23.55" fill="#000000"/>
<rect x="513.14" y="466.90" width="27.67" height="23.55" fill="#08a4fc"/>
<rect x="540.51" y="466.90" width="27.67" height="23.55" fill="#000000"/>
<rect x="567.88" y="466.90" width="27.67" height="23.55" fill="#000000"/>
<rect x="595.25" y="466.90" width="27.67" height="23.55" fill="#000000"/>
<rect x="458.40" y="490.15" width="27.67" height="23.55" fill="#08a4fc"/>
<rect x="485.77" y="490.15" width="27.67" height="23.55" fill="#000000"/>
<rect x="513.14" y="490.15" width="27.67" height="23.55" fill="#000000"/>
<rect x="540.51" y="490.15" width="27.67" height="23.55" fill="#000000"/>
<rect x="567.88" y="490.15" width="27.67" height="23.55" fill="#000000"/>
<rect x="595.25" y="490.15" width="27.67" height="23.55" fill="#000000"/>
<rect x="458.40" y="513.40" width="27.67" height="23.55" fill="#08a4fc"/>
<rect x="485.77" y="513.40" width="27.67" height="23.55" fill="#000000"/>
<rect x="513.14" y="513.40" width="27.67" height="23.55" fill="#08a4fc"/>
<rect x="540.51" y="513.40" width="27.67" height="23.55" fill="#000000"/>
<rect x="567.88" y="513.40" width="27.67" height="23.55" fill="#000000"/>
<rect x="595.25" y="513.40" width="27.67" height="23.55" fill="#000000"/>
<rect x="458.40" y="536.65" width="27.67" height="23.55" fill="#08a4fc"/>
<rect x="485.77" y="536.65" width="27.67" height="23.55" fill="#000000"/>
<rect x="513.14" y="536.65" width="27.67" height="23.55" fill="#000000"/>
<rect x="540.51" y="536.65" width="27.67" height="23.55" fill="#000000"/>
<rect x="567.88" y="536.65" width="27.67" height="23.55" fill="#000000"/>
<rect x="595.25" y="536.65" width="27.67" height="23.55" fill="#000000"/>
<line x1="458.40" y1="350.65" x2="622.62" y2="350.65" stroke="#fff" stroke-opacity="0.8" stroke-width="0.8"/>
<line x1="458.40" y1="373.90" x2="622.62" y2="373.90" stroke="#fff" stroke-opacity="0.8" stroke-width="0.8"/>
<line x1="458.40" y1="397.15" x2="622.62" y2="397.15" stroke="#fff" stroke-opacity="0.8" stroke-width="0.8"/>
<line x1="458.40" y1="420.40" x2="622.62" y2="420.40" stroke="#fff" stroke-opacity="0.8" stroke-width="0.8"/>
<line x1="458.40" y1="443.65" x2="622.62" y2="443.65" stroke="#fff" stroke-opacity="0.8" stroke-width="0.8"/>
<line x1="458.40" y1="466.90" x2="622.62" y2="466.90" stroke="#fff" stroke-opacity="0.8" stroke-width="0.8"/>
<line x1="458.40" y1="490.15" x2="622.62" y2="490.15" stroke="#fff" stroke-opacity="0.8" stroke-width="0.8"/>
<line x1="458.40" y1="513.40" x2="622.62" y2="513.40" stroke="#fff" stroke-opacity="0.8" stroke-width="0.8"/>
<line x1="458.40" y1="536.65" x2="622.62" y2="536.65" stroke="#fff" stroke-opacity="0.8" stroke-width="0.8"/>
<line x1="485.77" y1="327.40" x2="485.77" y2="559.90" stroke="#fff" stroke-opacity="0.8" stroke-width="0.8"/>
<line x1="513.14" y1="327.40" x2="513.14" y2="559.90" stroke="#fff" stroke-opacity="0.8" stroke-width="0.8"/>
<line x1="540.51" y1="327.40" x2="540.51" y2="559.90" stroke="#fff" stroke-opacity="0.8" stroke-width="0.8"/>
<line x1="567.88" y1="327.40" x2="567.88" y2="559.90" stroke="#fff" stroke-opacity="0.8" stroke-width="0.8"/>
<line x1="595.25" y1="327.40" x2="595.25" y2="559.90" stroke="#fff" stroke-opacity="0.8" stroke-width="0.8"/>
<text x="472.28" y="341.15" font-size="5.9" text-anchor="middle" fill="#0a0a0a" stroke="#111" stroke-width="0.07">0.689</text>
<text x="499.65" y="341.15" font-size="5.9" text-anchor="middle" fill="#0a0a0a" stroke="#111" stroke-width="0.07">2.312</text>
<text x="527.02" y="341.15" font-size="5.9" text-anchor="middle" fill="#0a0a0a" stroke="#111" stroke-width="0.07">10.802</text>
<text x="554.30" y="341.56" font-size="6.6" text-anchor="middle" fill="#fff" >&gt;50</text>
<text x="581.76" y="341.15" font-size="5.9" text-anchor="middle" fill="#0a0a0a" stroke="#111" stroke-width="0.07">0.026</text>
<text x="609.13" y="341.15" font-size="5.9" text-anchor="middle" fill="#0a0a0a" stroke="#111" stroke-width="0.07">0.097</text>
<line x1="456.60" y1="339.02" x2="458.40" y2="339.02" stroke="#000" stroke-width="0.9"/>
<text x="454.00" y="341.76" font-size="9" text-anchor="end" fill="#000" >C4.gs</text>
<text x="472.28" y="364.40" font-size="5.9" text-anchor="middle" fill="#0a0a0a" stroke="#111" stroke-width="0.07">0.141</text>
<text x="499.65" y="364.40" font-size="5.9" text-anchor="middle" fill="#0a0a0a" stroke="#111" stroke-width="0.07">0.493</text>
<text x="527.02" y="364.40" font-size="5.9" text-anchor="middle" fill="#0a0a0a" stroke="#111" stroke-width="0.07">3.081</text>
<text x="554.39" y="364.40" font-size="5.9" text-anchor="middle" fill="#0a0a0a" stroke="#111" stroke-width="0.07">11.123</text>
<text x="581.76" y="364.40" font-size="5.9" text-anchor="middle" fill="#0a0a0a" stroke="#111" stroke-width="0.07">0.459</text>
<text x="609.13" y="364.40" font-size="5.9" text-anchor="middle" fill="#0a0a0a" stroke="#111" stroke-width="0.07">6.685</text>
<line x1="456.60" y1="362.27" x2="458.40" y2="362.27" stroke="#000" stroke-width="0.9"/>
<text x="454.00" y="365.01" font-size="9" text-anchor="end" fill="#000" >D6.gs</text>
<text x="471.50" y="388.18" font-size="6.6" text-anchor="middle" fill="#fff" >&gt;50</text>
<text x="499.10" y="388.18" font-size="6.6" text-anchor="middle" fill="#fff" >&gt;50</text>
<text x="526.70" y="388.18" font-size="6.6" text-anchor="middle" fill="#fff" >&gt;50</text>
<text x="554.30" y="388.18" font-size="6.6" text-anchor="middle" fill="#fff" >&gt;50</text>
<text x="581.90" y="388.18" font-size="6.6" text-anchor="middle" fill="#fff" >&gt;50</text>
<text x="609.50" y="388.18" font-size="6.6" text-anchor="middle" fill="#fff" >&gt;50</text>
<line x1="456.60" y1="385.52" x2="458.40" y2="385.52" stroke="#000" stroke-width="0.9"/>
<text x="454.00" y="388.26" font-size="9" text-anchor="end" fill="#000" >C1.2</text>
<text x="471.50" y="411.49" font-size="6.6" text-anchor="middle" fill="#fff" >&gt;50</text>
<text x="499.10" y="411.49" font-size="6.6" text-anchor="middle" fill="#fff" >&gt;50</text>
<text x="527.02" y="410.90" font-size="5.9" text-anchor="middle" fill="#0a0a0a" stroke="#111" stroke-width="0.07">12.872</text>
<text x="554.30" y="411.49" font-size="6.6" text-anchor="middle" fill="#fff" >&gt;50</text>
<text x="581.90" y="411.49" font-size="6.6" text-anchor="middle" fill="#fff" >&gt;50</text>
<text x="609.50" y="411.49" font-size="6.6" text-anchor="middle" fill="#fff" >&gt;50</text>
<line x1="456.60" y1="408.77" x2="458.40" y2="408.77" stroke="#000" stroke-width="0.9"/>
<text x="454.00" y="411.51" font-size="9" text-anchor="end" fill="#000" >C6.7</text>
<text x="472.28" y="434.15" font-size="5.9" text-anchor="middle" fill="#0a0a0a" stroke="#111" stroke-width="0.07">26.154</text>
<text x="499.10" y="434.80" font-size="6.6" text-anchor="middle" fill="#fff" >&gt;50</text>
<text x="527.02" y="434.15" font-size="5.9" text-anchor="middle" fill="#0a0a0a" stroke="#111" stroke-width="0.07">38.516</text>
<text x="554.30" y="434.80" font-size="6.6" text-anchor="middle" fill="#fff" >&gt;50</text>
<text x="581.90" y="434.80" font-size="6.6" text-anchor="middle" fill="#fff" >&gt;50</text>
<text x="609.50" y="434.80" font-size="6.6" text-anchor="middle" fill="#fff" >&gt;50</text>
<line x1="456.60" y1="432.02" x2="458.40" y2="432.02" stroke="#000" stroke-width="0.9"/>
<text x="454.00" y="434.76" font-size="9" text-anchor="end" fill="#000" >D1.6</text>
<text x="472.28" y="457.40" font-size="5.9" text-anchor="middle" fill="#0a0a0a" stroke="#111" stroke-width="0.07">23.396</text>
<text x="499.10" y="458.11" font-size="6.6" text-anchor="middle" fill="#fff" >&gt;50</text>
<text x="527.02" y="457.40" font-size="5.9" text-anchor="middle" fill="#0a0a0a" stroke="#111" stroke-width="0.07">43.626</text>
<text x="554.30" y="458.11" font-size="6.6" text-anchor="middle" fill="#fff" >&gt;50</text>
<text x="581.90" y="458.11" font-size="6.6" text-anchor="middle" fill="#fff" >&gt;50</text>
<text x="609.50" y="458.11" font-size="6.6" text-anchor="middle" fill="#fff" >&gt;50</text>
<line x1="456.60" y1="455.27" x2="458.40" y2="455.27" stroke="#000" stroke-width="0.9"/>
<text x="454.00" y="458.01" font-size="9" text-anchor="end" fill="#000" >D8.10</text>
<text x="471.50" y="481.42" font-size="6.6" text-anchor="middle" fill="#fff" >&gt;50</text>
<text x="499.10" y="481.42" font-size="6.6" text-anchor="middle" fill="#fff" >&gt;50</text>
<text x="527.02" y="480.65" font-size="5.9" text-anchor="middle" fill="#0a0a0a" stroke="#111" stroke-width="0.07">33.277</text>
<text x="554.30" y="481.42" font-size="6.6" text-anchor="middle" fill="#fff" >&gt;50</text>
<text x="581.90" y="481.42" font-size="6.6" text-anchor="middle" fill="#fff" >&gt;50</text>
<text x="609.50" y="481.42" font-size="6.6" text-anchor="middle" fill="#fff" >&gt;50</text>
<line x1="456.60" y1="478.52" x2="458.40" y2="478.52" stroke="#000" stroke-width="0.9"/>
<text x="454.00" y="481.26" font-size="9" text-anchor="end" fill="#000" >D11.5</text>
<text x="472.28" y="503.90" font-size="5.9" text-anchor="middle" fill="#0a0a0a" stroke="#111" stroke-width="0.07">44.525</text>
<text x="499.10" y="504.73" font-size="6.6" text-anchor="middle" fill="#fff" >&gt;50</text>
<text x="526.70" y="504.73" font-size="6.6" text-anchor="middle" fill="#fff" >&gt;50</text>
<text x="554.30" y="504.73" font-size="6.6" text-anchor="middle" fill="#fff" >&gt;50</text>
<text x="581.90" y="504.73" font-size="6.6" text-anchor="middle" fill="#fff" >&gt;50</text>
<text x="609.50" y="504.73" font-size="6.6" text-anchor="middle" fill="#fff" >&gt;50</text>
<line x1="456.60" y1="501.77" x2="458.40" y2="501.77" stroke="#000" stroke-width="0.9"/>
<text x="454.00" y="504.51" font-size="9" text-anchor="end" fill="#000" >F7.5</text>
<text x="472.28" y="527.15" font-size="5.9" text-anchor="middle" fill="#0a0a0a" stroke="#111" stroke-width="0.07">26.821</text>
<text x="499.10" y="528.04" font-size="6.6" text-anchor="middle" fill="#fff" >&gt;50</text>
<text x="527.02" y="527.15" font-size="5.9" text-anchor="middle" fill="#0a0a0a" stroke="#111" stroke-width="0.07">17.277</text>
<text x="554.30" y="528.04" font-size="6.6" text-anchor="middle" fill="#fff" >&gt;50</text>
<text x="581.90" y="528.04" font-size="6.6" text-anchor="middle" fill="#fff" >&gt;50</text>
<text x="609.50" y="528.04" font-size="6.6" text-anchor="middle" fill="#fff" >&gt;50</text>
<line x1="456.60" y1="525.02" x2="458.40" y2="525.02" stroke="#000" stroke-width="0.9"/>
<text x="454.00" y="527.76" font-size="9" text-anchor="end" fill="#000" >G5.1</text>
<text x="472.28" y="550.40" font-size="5.9" text-anchor="middle" fill="#0a0a0a" stroke="#111" stroke-width="0.07">43.669</text>
<text x="499.10" y="551.35" font-size="6.6" text-anchor="middle" fill="#fff" >&gt;50</text>
<text x="526.70" y="551.35" font-size="6.6" text-anchor="middle" fill="#fff" >&gt;50</text>
<text x="554.30" y="551.35" font-size="6.6" text-anchor="middle" fill="#fff" >&gt;50</text>
<text x="581.90" y="551.35" font-size="6.6" text-anchor="middle" fill="#fff" >&gt;50</text>
<text x="609.50" y="551.35" font-size="6.6" text-anchor="middle" fill="#fff" >&gt;50</text>
<line x1="456.60" y1="548.27" x2="458.40" y2="548.27" stroke="#000" stroke-width="0.9"/>
<text x="454.00" y="551.01" font-size="9" text-anchor="end" fill="#000" >G11.2</text>
<rect x="458.40" y="327.40" width="164.22" height="232.50" fill="none" stroke="#000" stroke-width="1"/>
<line x1="472.08" y1="559.90" x2="472.08" y2="561.90" stroke="#000" stroke-width="0.8"/>
<text x="472.08" y="572.10" font-size="8.6" text-anchor="middle" fill="#000" >IC50</text>
<line x1="499.45" y1="559.90" x2="499.45" y2="561.90" stroke="#000" stroke-width="0.8"/>
<text x="499.45" y="572.10" font-size="8.6" text-anchor="middle" fill="#000" >IC80</text>
<line x1="526.82" y1="559.90" x2="526.82" y2="561.90" stroke="#000" stroke-width="0.8"/>
<text x="526.82" y="572.10" font-size="8.6" text-anchor="middle" fill="#000" >IC50</text>
<line x1="554.19" y1="559.90" x2="554.19" y2="561.90" stroke="#000" stroke-width="0.8"/>
<text x="554.19" y="572.10" font-size="8.6" text-anchor="middle" fill="#000" >IC80</text>
<line x1="581.56" y1="559.90" x2="581.56" y2="561.90" stroke="#000" stroke-width="0.8"/>
<text x="581.56" y="572.10" font-size="8.6" text-anchor="middle" fill="#000" >IC50</text>
<line x1="608.93" y1="559.90" x2="608.93" y2="561.90" stroke="#000" stroke-width="0.8"/>
<text x="608.93" y="572.10" font-size="8.6" text-anchor="middle" fill="#000" >IC80</text>
<text x="485.67" y="321.40" font-size="7.55" text-anchor="middle" fill="#111" >VRC07-523LS</text>
<text x="541.11" y="321.40" font-size="7.55" text-anchor="middle" fill="#111" >PGDM1400</text>
<text x="595.05" y="321.40" font-size="7.55" text-anchor="middle" fill="#111" >PGT121</text>
<polyline points="429.40,332.60 422.60,332.60 422.60,371.80 429.40,371.80" fill="none" stroke="#000" stroke-width="1.8"/>
<polyline points="429.40,380.00 422.60,380.00 422.60,554.70 429.40,554.70" fill="none" stroke="#000" stroke-width="1.8"/>
<text x="392.30" y="355.60" font-size="8.8" text-anchor="middle" fill="#111" >Pre-ATI</text>
<text x="392.10" y="469.80" font-size="8.8" text-anchor="middle" fill="#111" >Rebound</text>
<text x="392.10" y="480.70" font-size="8.8" text-anchor="middle" fill="#111" >(15 days)</text>
<rect x="627.80" y="341.30" width="12.10" height="35.20" fill="#000000"/>
<rect x="627.80" y="376.20" width="12.10" height="34.00" fill="#08a4fc"/>
<rect x="627.80" y="409.90" width="12.10" height="34.10" fill="#80ff10"/>
<rect x="627.80" y="443.70" width="12.10" height="34.40" fill="#ffff00"/>
<rect x="627.80" y="477.80" width="12.10" height="34.30" fill="#ff8010"/>
<rect x="627.80" y="511.80" width="12.10" height="34.20" fill="#ff0810"/>
<rect x="627.80" y="341.30" width="12.10" height="204.40" fill="none" stroke="#000" stroke-width="1.2"/>
<line x1="627.80" y1="393.05" x2="629.80" y2="393.05" stroke="#000" stroke-width="0.9"/>
<line x1="637.90" y1="393.05" x2="639.90" y2="393.05" stroke="#000" stroke-width="0.9"/>
<line x1="627.80" y1="426.80" x2="629.80" y2="426.80" stroke="#000" stroke-width="0.9"/>
<line x1="637.90" y1="426.80" x2="639.90" y2="426.80" stroke="#000" stroke-width="0.9"/>
<line x1="627.80" y1="460.75" x2="629.80" y2="460.75" stroke="#000" stroke-width="0.9"/>
<line x1="637.90" y1="460.75" x2="639.90" y2="460.75" stroke="#000" stroke-width="0.9"/>
<line x1="627.80" y1="494.80" x2="629.80" y2="494.80" stroke="#000" stroke-width="0.9"/>
<line x1="637.90" y1="494.80" x2="639.90" y2="494.80" stroke="#000" stroke-width="0.9"/>
<line x1="627.80" y1="528.75" x2="629.80" y2="528.75" stroke="#000" stroke-width="0.9"/>
<line x1="637.90" y1="528.75" x2="639.90" y2="528.75" stroke="#000" stroke-width="0.9"/>
<text x="654.30" y="350.20" font-size="8.9" text-anchor="middle" fill="#111" >&gt;50</text>
<text x="654.30" y="380.00" font-size="8.9" text-anchor="middle" fill="#111" >50</text>
<text x="654.30" y="411.70" font-size="8.9" text-anchor="middle" fill="#111" >10</text>
<text x="654.00" y="447.00" font-size="8.9" text-anchor="middle" fill="#111" >1</text>
<text x="655.80" y="482.20" font-size="8.9" text-anchor="middle" fill="#111" >0.1</text>
<text x="656.00" y="516.50" font-size="8.9" text-anchor="middle" fill="#111" >0.01</text>
<text x="657.50" y="544.80" font-size="8.9" text-anchor="middle" fill="#111" >0.001</text>
<text transform="translate(677.50,443.70) rotate(90)" font-size="9.1" text-anchor="middle" fill="#111">IC values (ug/mL)</text>
<line x1="422" y1="630.8" x2="422" y2="649.1" stroke="#ff0505" stroke-width="2.1"/>
<polygon points="417.8,648.1 426.2,648.1 422,655.7" fill="#ff0505"/>
<text x="436.00" y="647.20" font-size="12.1" text-anchor="start" fill="#222" >Time of sampling</text>
<rect x="582.5" y="632" width="10.7" height="22.4" fill="#c8c8c8"/>
<text x="601.50" y="647.20" font-size="12.4" text-anchor="start" fill="#222" >ART</text>
</svg>
</body></html>
